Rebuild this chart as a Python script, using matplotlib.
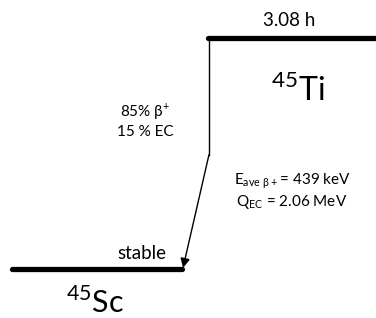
import matplotlib.pyplot as plt

# decay scheme data
nuclides = ["$^{45}$Ti", "$^{45}$Sc"]
energies = [2.06, 0.0]          # MeV, level energy (Q_EC above ground)
halflives = ["3.08 h", "stable"]
level_x = [(208, 376), (12, 182)]
branch_text = "85% β$^{+}$\n15 % EC"
info_text = "E$_{\\rm ave\\ β+}$= 439 keV\nQ$_{\\rm EC}$ = 2.06 MeV"
kink_e = 1.02

plt.rcParams['font.family'] = ['Lato', 'DejaVu Sans']
plt.rcParams['mathtext.fontset'] = 'custom'
plt.rcParams['mathtext.rm'] = 'Lato'

fig = plt.figure(figsize=(3.76, 3.18), dpi=100)
ax = fig.add_axes([0, 0, 1, 1])
ax.set_xlim(0, 376)
ax.set_ylim(-0.437, 2.399)
ax.axis('off')

# levels
for (x0, x1), e in zip(level_x, energies):
    ax.plot([x0, x1], [e, e], color='black', lw=3.8, solid_capstyle='round')

ax.text(289, energies[0] + 0.08, halflives[0], ha='center', va='bottom', fontsize=13.5)
ax.text(142, energies[1] + 0.06, halflives[1], ha='center', va='bottom', fontsize=13.5)
ax.text(298, energies[0] - 0.47, nuclides[0], ha='center', va='center', fontsize=23)
ax.text(95, energies[1] - 0.30, nuclides[1], ha='center', va='center', fontsize=22)

# decay arrow
xv = level_x[0][0] + 1
ax.plot([xv, xv], [energies[0], kink_e], color='black', lw=1)
ax.annotate('', xy=(level_x[1][1] + 1, energies[1] + 0.01), xytext=(xv, kink_e),
            arrowprops=dict(arrowstyle='-|>', color='black', lw=1,
                            mutation_scale=14, shrinkA=0, shrinkB=0))

ax.text(145, 1.33, branch_text, ha='center', va='center', fontsize=11, linespacing=1.3)
ax.text(292, 0.69, info_text, ha='center', va='center', fontsize=11, linespacing=1.15)

fig.savefig('out.png', dpi=100)
